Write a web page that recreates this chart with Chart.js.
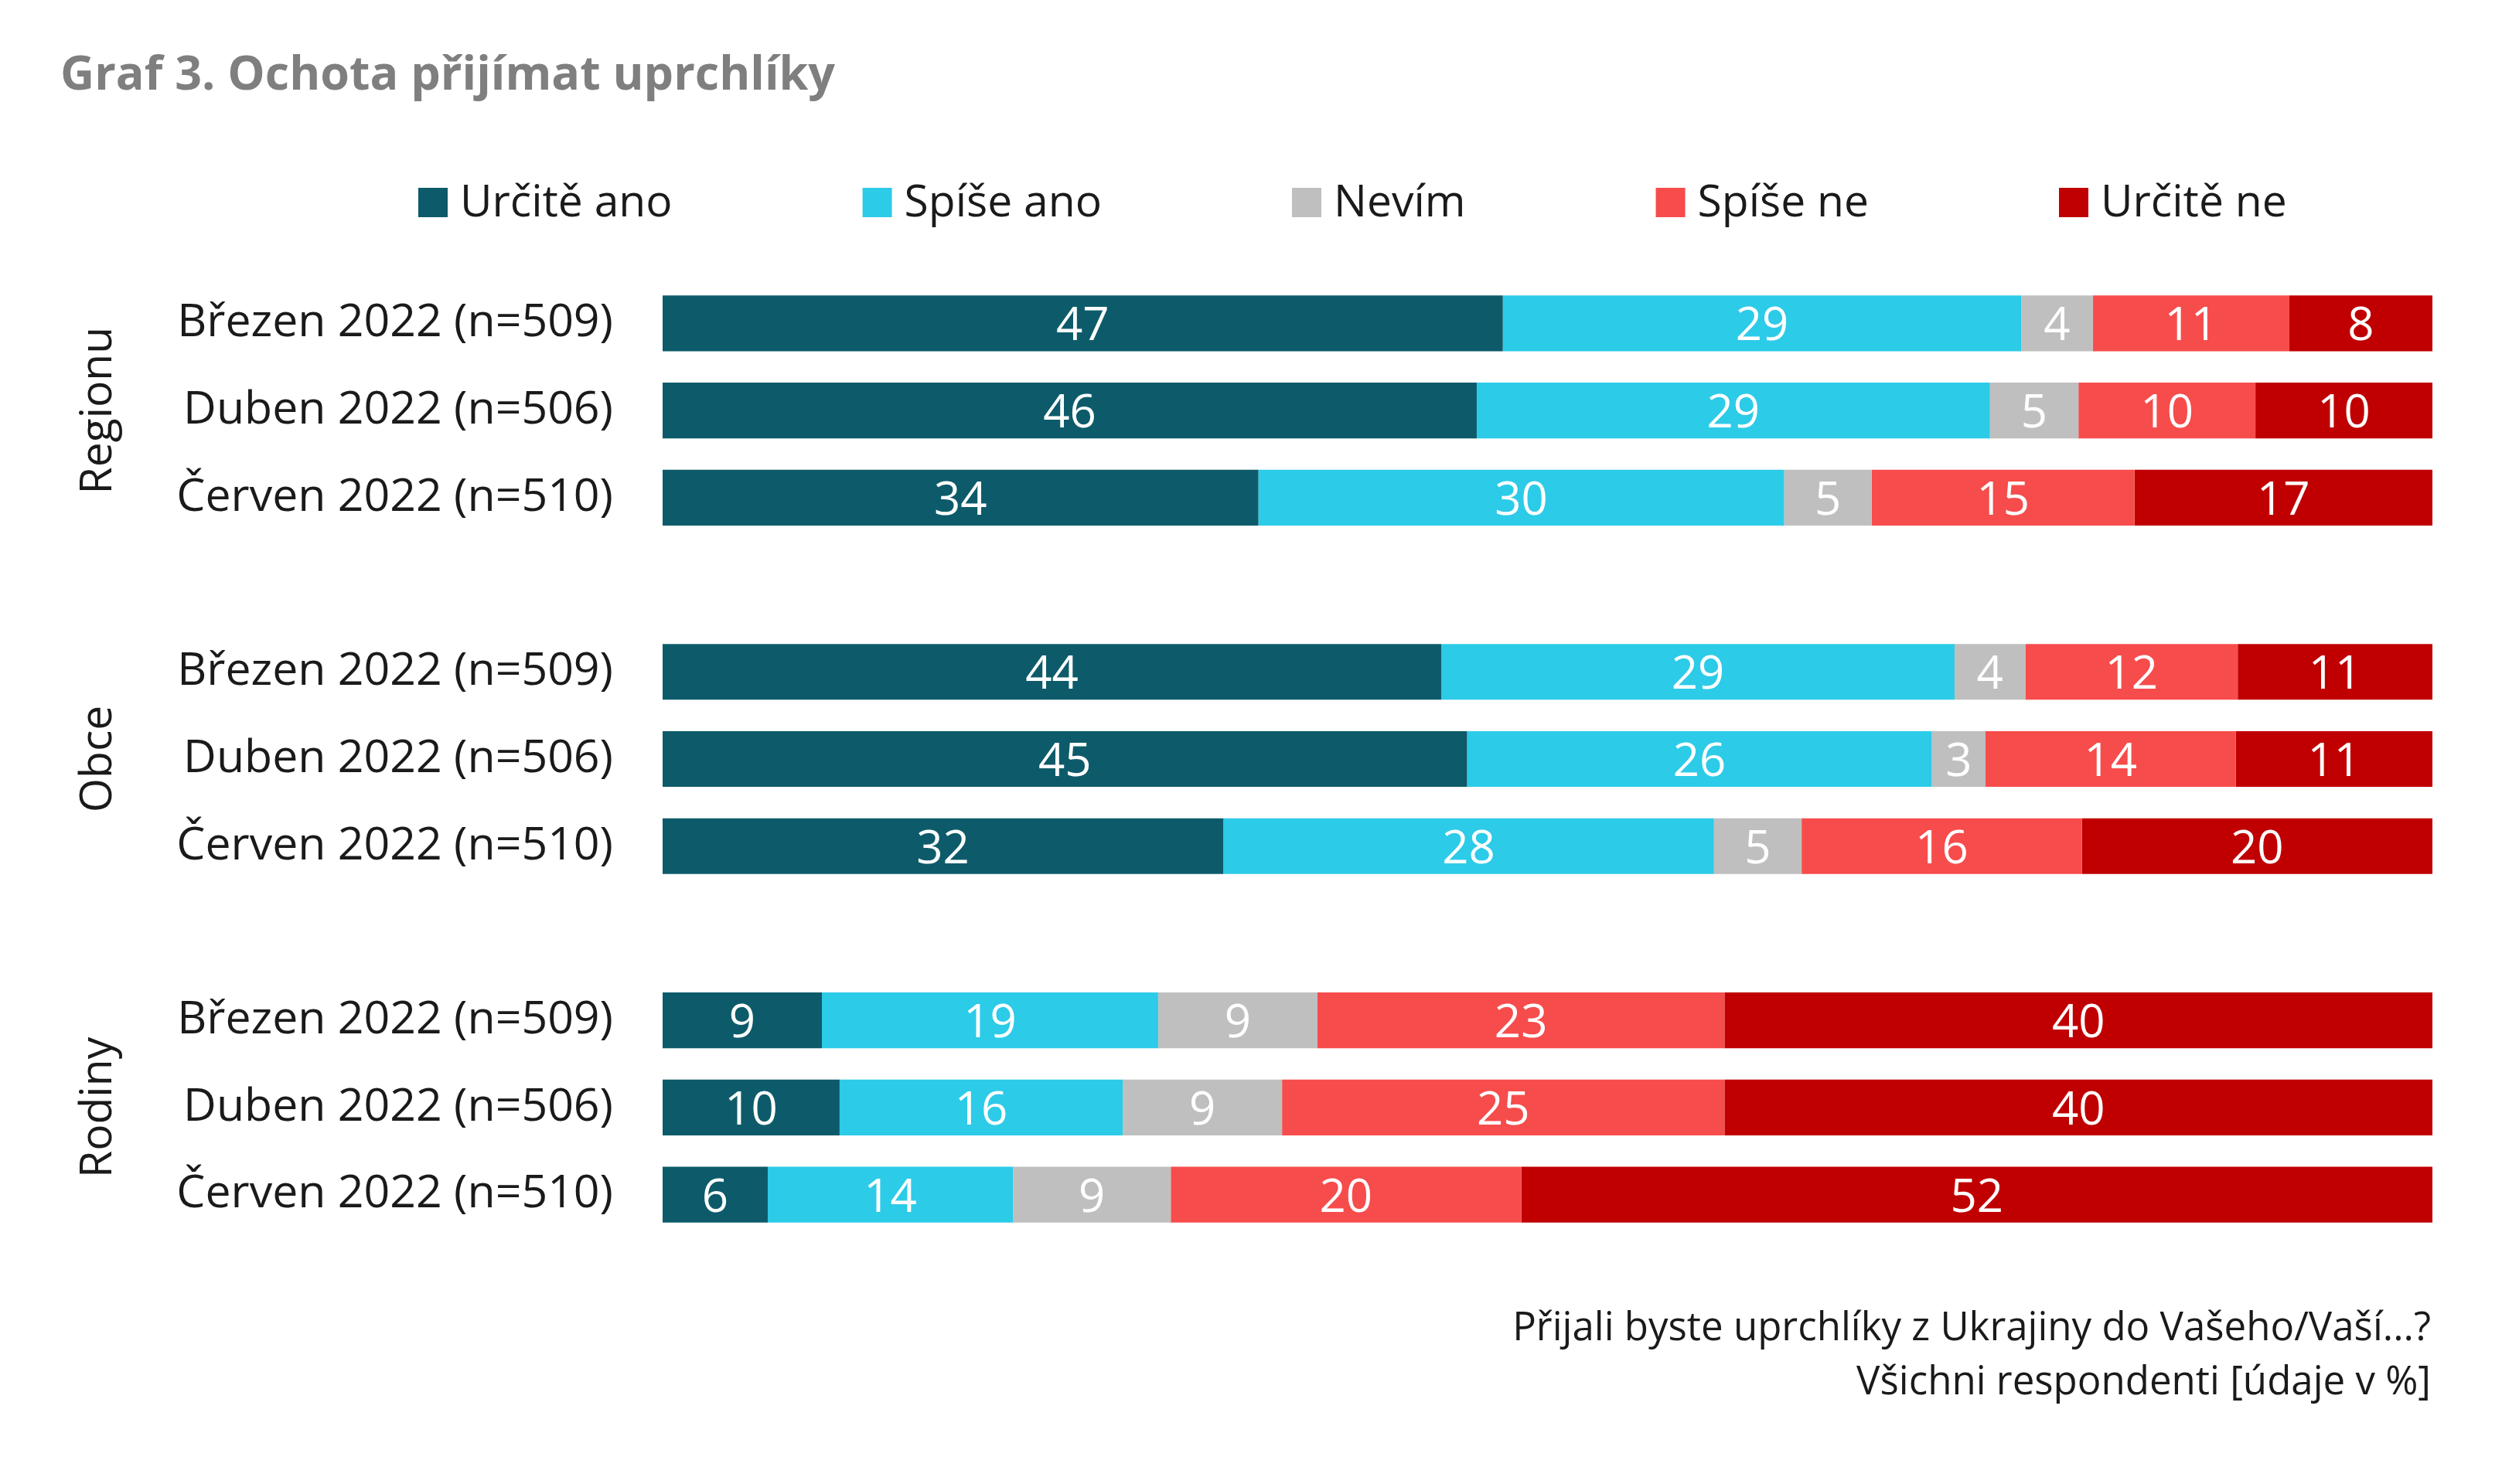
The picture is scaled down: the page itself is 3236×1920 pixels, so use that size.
<!DOCTYPE html>
<html>
<head>
<meta charset="utf-8">
<script src="https://cdn.jsdelivr.net/npm/chart.js@4.4.1/dist/chart.umd.min.js"></script>
<style>
  html, body { margin: 0; padding: 0; background: #fff; }
</style>
</head>
<body>
<canvas id="chart" width="3236" height="1920"></canvas>
<script>
// data
const groups = ["Regionu", "Obce", "Rodiny"];
const months = ["Březen 2022 (n=509)", "Duben 2022 (n=506)", "Červen 2022 (n=510)"];
const seriesNames = ["Určitě ano", "Spíše ano", "Nevím", "Spíše ne", "Určitě ne"];
const seriesColors = ["#0d5b6a", "#2ccbe8", "#bfbfbf", "#f74c4c", "#c00000"];

const urciteAno = [47, 46, 34, 44, 45, 32, 9, 10, 6];
const spiseAno  = [29, 29, 30, 29, 26, 28, 19, 16, 14];
const nevim     = [4, 5, 5, 4, 3, 5, 9, 9, 9];
const spiseNe   = [11, 10, 15, 12, 14, 16, 23, 25, 20];
const urciteNe  = [8, 10, 17, 11, 11, 20, 40, 40, 52];

const title = "Graf 3. Ochota přijímat uprchlíky";
const note1 = "Přijali byste uprchlíky z Ukrajiny do Vašeho/Vaší...?";
const note2 = "Všichni respondenti [údaje v %]";

const FONT = "'Open Sans', 'Noto Sans', sans-serif";
const allSeries = [urciteAno, spiseAno, nevim, spiseNe, urciteNe];

// rows with an empty slot between groups
let labels = [];
let rowIdx = [];   // -1 for spacer
groups.forEach((g, gi) => {
    months.forEach((m, mi) => { labels.push(m); rowIdx.push(gi * 3 + mi); });
    if (gi < groups.length - 1) { labels.push(""); rowIdx.push(-1); }
});

// 100% stacked, like the original
const rowSum = urciteAno.map((_, r) => allSeries.reduce((s, a) => s + a[r], 0));

const datasets = allSeries.map((arr, si) => ({
    label: seriesNames[si],
    backgroundColor: seriesColors[si],
    data: rowIdx.map(r => r < 0 ? null : arr[r] / rowSum[r] * 100),
    raw: rowIdx.map(r => r < 0 ? null : arr[r]),
    categoryPercentage: 0.64,
    barPercentage: 1.0
}));

const extras = {
    id: "extras",
    afterDatasetsDraw(chart) {
        const ctx = chart.ctx;
        ctx.save();
        // value labels
        ctx.fillStyle = "#ffffff";
        ctx.font = "60px " + FONT;
        ctx.textAlign = "center";
        ctx.textBaseline = "middle";
        chart.data.datasets.forEach((ds, i) => {
            chart.getDatasetMeta(i).data.forEach((bar, j) => {
                if (ds.raw[j] == null) return;
                ctx.fillText(ds.raw[j], (bar.x + bar.base) / 2, bar.y + 5);
            });
        });

        // title
        ctx.fillStyle = "#7f7f7f";
        ctx.font = "bold 61px " + FONT;
        ctx.textAlign = "left";
        ctx.fillText(title, 78, 99);

        // legend
        ctx.font = "57px " + FONT;
        let x = 541;
        chart.data.datasets.forEach(ds => {
            ctx.fillStyle = ds.backgroundColor;
            ctx.fillRect(x, 243, 38, 38);
            ctx.fillStyle = "#1a1a1a";
            ctx.fillText(ds.label, x + 54, 264);
            x += 54 + ctx.measureText(ds.label).width + 246;
        });

        // group labels, rotated
        const y = chart.scales.y;
        ctx.font = "57px " + FONT;
        ctx.textAlign = "center";
        groups.forEach((g, gi) => {
            const mid = rowIdx.indexOf(gi * 3 + 1);
            ctx.save();
            ctx.translate(128, y.getPixelForTick(mid));
            ctx.rotate(-Math.PI / 2);
            ctx.fillText(g, 0, 0);
            ctx.restore();
        });

        // note
        ctx.font = "51px " + FONT;
        ctx.textAlign = "right";
        ctx.fillText(note1, 3144, 1719);
        ctx.fillText(note2, 3144, 1789);
        ctx.restore();
    }
};

new Chart(document.getElementById("chart"), {
    type: "bar",
    data: { labels: labels, datasets: datasets },
    options: {
        indexAxis: "y",
        responsive: false,
        animation: false,
        devicePixelRatio: 1,
        layout: { padding: { left: 0, right: 90, top: 362, bottom: 318 } },
        plugins: {
            legend: { display: false },
            title: { display: false },
            tooltip: { enabled: false }
        },
        scales: {
            x: { stacked: true, min: 0, max: 100, display: false },
            y: {
                stacked: true,
                grid: { display: false, drawTicks: false },
                border: { display: false },
                ticks: { color: "#1a1a1a", font: { size: 59, family: FONT }, padding: 64, autoSkip: false },
                afterFit(scale) { scale.width = 857; }
            }
        }
    },
    plugins: [extras]
});
</script>
</body>
</html>
